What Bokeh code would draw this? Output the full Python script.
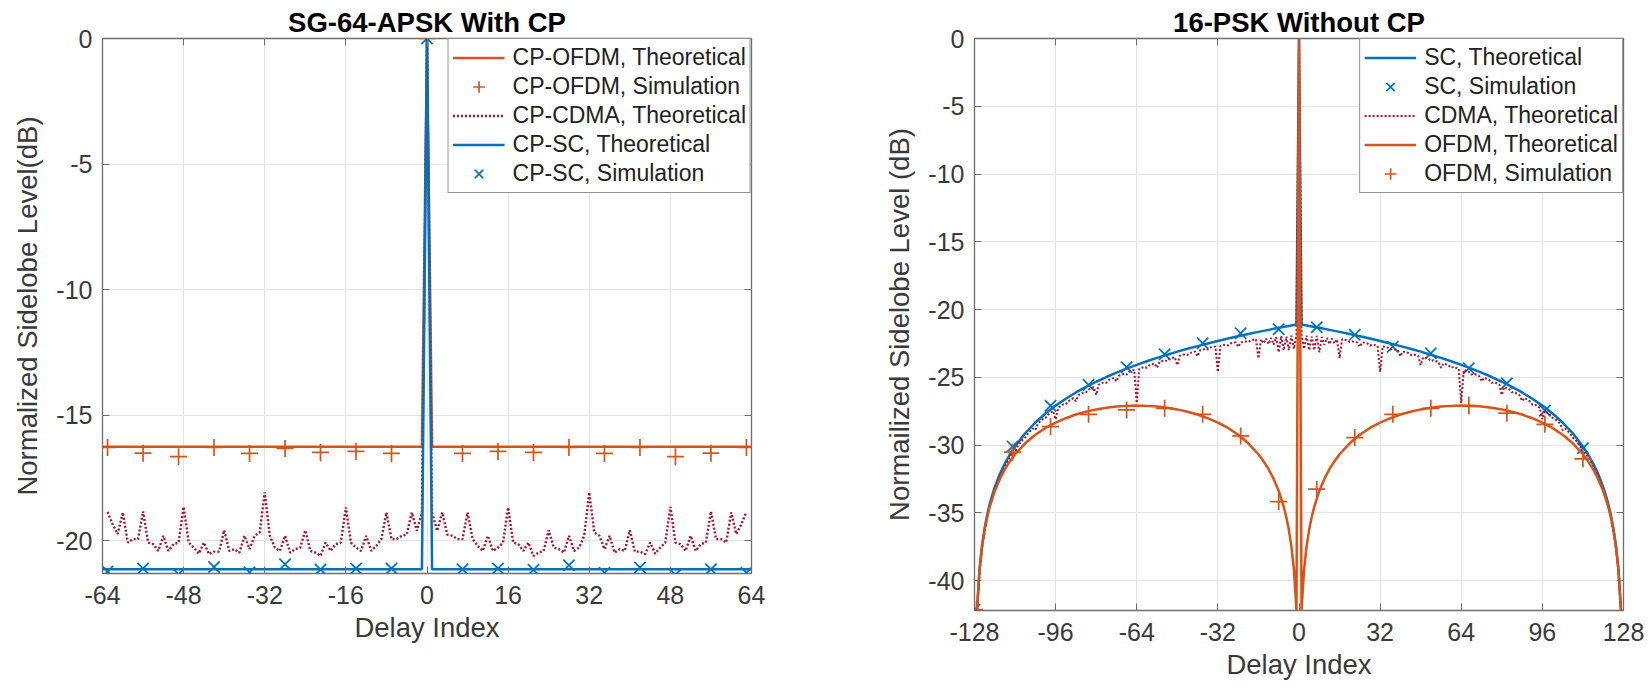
from bokeh.plotting import figure
from bokeh.models import Range1d, FixedTicker, LinearAxis
from bokeh.layouts import row
from bokeh.embed import file_html
from bokeh.resources import INLINE

FONT = "Liberation Sans"
BLUE = "#0072BD"
ORANGE = "#D95319"
DARKRED = "#A2142F"
TXT = "#3a3a3a"
AXC = "#6e6e6e"
GRID = "#e3e3e3"

# ---------------- left panel: SG-64-APSK With CP ----------------
l_xticks = [-64, -48, -32, -16, 0, 16, 32, 48, 64]
l_yticks = [-20, -15, -10, -5, 0]
l_theo_x = [-64, -1, 0, 1, 64]
l_ofdm_theo = [-16.25, -16.25, 0.0, -16.25, -16.25]
l_sc_theo = [-21.13, -21.13, 0.0, -21.13, -21.13]
l_sim_x = [-63, -56, -49, -42, -35, -28, -21, -14, -7, 0, 7, 14, 21, 28, 35, 42, 49, 56, 63]
l_ofdm_sim = [-16.28, -16.51, -16.65, -16.28, -16.52, -16.32, -16.48, -16.44, -16.52, 0.0,
              -16.52, -16.44, -16.48, -16.28, -16.52, -16.28, -16.65, -16.51, -16.28]
l_sc_sim = [-21.22, -21.10, -21.33, -21.04, -21.25, -20.93, -21.14, -21.10, -21.10, 0.0,
            -21.13, -21.10, -21.15, -20.97, -21.27, -21.06, -21.35, -21.13, -21.27]
# CP-CDMA theoretical, delays 1..63 (symmetric about 0, peak 0 dB at 0)
l_cdma_k = list(range(1, 64))
l_cdma_half = [-18.87, -19.60, -18.87, -19.75, -19.80, -19.93, -19.93, -18.87, -19.93, -20.20,
               -20.40, -19.80, -20.40, -20.27, -20.07, -18.67, -20.07, -20.13, -20.40, -20.07,
               -20.60, -20.47, -20.40, -19.58, -20.27, -20.33, -20.47, -19.80, -20.40, -20.27,
               -19.80, -18.07, -19.67, -19.80, -20.33, -19.80, -20.47, -20.33, -20.40, -19.58,
               -20.43, -20.43, -20.53, -20.07, -20.51, -20.27, -20.07, -18.65, -20.07, -20.13,
               -20.40, -19.80, -20.40, -20.13, -20.07, -18.83, -19.93, -19.93, -20.07, -18.87,
               -19.73, -19.34, -18.85]

# ---------------- right panel: 16-PSK Without CP ----------------
r_xticks = [-128, -96, -64, -32, 0, 32, 64, 96, 128]
r_yticks = [-40, -35, -30, -25, -20, -15, -10, -5, 0]
r_sc_k = [1, 4, 8, 12, 16, 20, 24, 28, 32, 36, 40, 44, 48, 52, 56, 60, 64, 68, 72, 76, 80, 84,
          88, 92, 96, 100, 104, 108, 112, 114, 116, 118, 120, 121, 122, 123, 124, 125, 126, 127]
r_sc_half = [-21.11, -21.21, -21.35, -21.50, -21.65, -21.81, -21.97, -22.14, -22.32, -22.51,
             -22.70, -22.90, -23.11, -23.34, -23.57, -23.82, -24.08, -24.36, -24.66, -24.98,
             -25.33, -25.71, -26.12, -26.58, -27.09, -27.67, -28.34, -29.13, -30.10, -30.68,
             -31.35, -32.14, -33.11, -33.69, -34.36, -35.15, -36.12, -37.37, -39.13, -42.14]
r_ofdm_k = [1, 2, 3, 4, 5, 6, 8, 10, 12, 14, 16, 20, 24, 28, 32, 36, 40, 44, 48, 52, 56, 60, 64,
            68, 72, 76, 80, 84, 88, 92, 96, 100, 104, 108, 112, 114, 116, 118, 120, 122, 123,
            124, 125, 126, 127]
r_ofdm_half = [-42.18, -39.20, -37.48, -36.26, -35.33, -34.57, -33.39, -32.50, -31.78, -31.19,
               -30.68, -29.87, -29.24, -28.74, -28.34, -28.02, -27.75, -27.54, -27.37, -27.25,
               -27.16, -27.11, -27.09, -27.11, -27.16, -27.25, -27.37, -27.54, -27.75, -28.02,
               -28.34, -28.74, -29.24, -29.87, -30.68, -31.19, -31.78, -32.50, -33.39, -34.57,
               -35.33, -36.26, -37.48, -39.20, -42.18]
r_cdma_k = list(range(1, 128))
r_cdma_half = [-21.86, -22.90, -21.93, -23.00, -22.00, -23.00, -21.95, -23.15, -22.04, -22.60,
               -22.10, -22.55, -22.15, -22.50, -22.20, -23.60, -22.19, -22.23, -22.27, -22.40,
               -22.35, -22.39, -22.43, -22.75, -22.42, -22.46, -22.50, -22.65, -22.59, -22.63,
               -22.68, -24.60, -22.72, -22.76, -22.81, -22.95, -22.90, -22.95, -23.00, -23.45,
               -23.10, -23.15, -23.20, -23.35, -23.30, -23.36, -23.41, -24.10, -23.52, -23.57,
               -23.63, -23.80, -23.74, -23.80, -23.86, -24.30, -23.98, -24.04, -24.11, -24.30,
               -24.23, -24.30, -24.37, -26.90, -24.45, -24.52, -24.59, -24.80, -24.74, -24.81,
               -24.89, -25.30, -25.04, -25.12, -25.20, -25.40, -25.37, -25.45, -25.54, -26.30,
               -25.72, -25.82, -25.91, -26.10, -26.11, -26.21, -26.32, -26.75, -26.53, -26.65,
               -26.76, -27.00, -27.00, -27.13, -27.26, -28.10, -27.48, -27.62, -27.77, -28.00,
               -28.08, -28.24, -28.42, -28.90, -28.78, -28.97, -29.17, -29.45, -29.61, -29.84,
               -30.09, -30.60, -30.58, -30.88, -31.20, -31.60, -31.93, -32.34, -32.80, -33.40,
               -33.89, -34.56, -35.35, -36.40, -37.57, -39.33, -42.20]
r_sim_x = [-128, -113, -98, -83, -68, -53, -38, -23, -8, 7, 22, 37, 52, 67, 82, 97, 112]
r_sc_sim = [-42.15, -30.10, -27.10, -25.56, -24.26, -23.30, -22.49, -21.75, -21.46, -21.31,
            -21.87, -22.74, -23.23, -24.34, -25.44, -27.46, -30.24]
r_ofdm_sim = [-42.15, -30.53, -28.64, -27.73, -27.41, -27.29, -27.73, -29.33, -34.17, -33.26,
              -29.45, -27.73, -27.29, -27.09, -27.65, -28.47, -31.02]


def sym_x(k):
    return [-v for v in reversed(k)] + [0] + list(k)


def sym_y(v, peak=0.0):
    return list(reversed(v)) + [peak] + list(v)


def make_fig(title, xr, yr, xticks, yticks, ylabel, fw, fh, bl, br, bt, bb):
    p = figure(frame_width=fw, frame_height=fh,
               min_border_left=bl, min_border_right=br, min_border_top=bt, min_border_bottom=bb,
               x_range=Range1d(*xr), y_range=Range1d(*yr),
               output_backend="svg", toolbar_location=None, title=title)
    p.title.align = "center"
    p.title.text_font = FONT
    p.title.text_font_size = "27.5px"
    p.title.text_font_style = "bold"
    p.title.text_color = "#000000"
    p.title.standoff = 2
    p.xaxis.ticker = FixedTicker(ticks=xticks)
    p.yaxis.ticker = FixedTicker(ticks=yticks)
    p.xaxis.major_label_overrides = {t: str(t) for t in xticks}
    p.yaxis.major_label_overrides = {t: str(t) for t in yticks}
    p.xaxis.axis_label = "Delay Index"
    p.yaxis.axis_label = ylabel
    for ax in (p.xaxis[0], p.yaxis[0]):
        ax.major_label_text_font = FONT
        ax.major_label_text_font_size = "25px"
        ax.major_label_text_color = TXT
        ax.axis_label_text_font = FONT
        ax.axis_label_text_font_size = "27.5px"
        ax.axis_label_text_font_style = "normal"
        ax.axis_label_text_color = TXT
        ax.axis_line_color = None
        ax.major_tick_in = 7
        ax.major_tick_out = 0
        ax.major_tick_line_color = AXC
        ax.minor_tick_line_color = None
    p.xaxis.major_label_standoff = 12
    p.xaxis.axis_label_standoff = 5
    p.yaxis.major_label_standoff = 10
    p.yaxis.axis_label_standoff = 10
    for side, ticks in (("above", xticks), ("right", yticks)):
        a = LinearAxis(ticker=FixedTicker(ticks=ticks))
        a.major_label_text_font_size = "1px"
        a.major_label_text_alpha = 0
        a.major_label_standoff = 0
        a.axis_line_color = None
        a.major_tick_in = 7
        a.major_tick_out = 0
        a.major_tick_line_color = AXC
        a.minor_tick_line_color = None
        p.add_layout(a, side)
    p.outline_line_color = AXC
    p.outline_line_width = 1.3
    p.xgrid.grid_line_color = GRID
    p.ygrid.grid_line_color = GRID
    p.background_fill_color = "white"
    p.border_fill_color = "white"
    return p


def style_legend(p):
    lg = p.legend[0]
    lg.location = "top_right"
    lg.margin = 0
    lg.padding = 4
    lg.spacing = 0
    lg.label_height = 29
    lg.glyph_height = 29
    lg.glyph_width = 52
    lg.label_standoff = 8
    lg.label_text_font = FONT
    lg.label_text_font_size = "23px"
    lg.label_text_color = "#222222"
    lg.border_line_color = "#262626"
    lg.border_line_width = 1
    lg.background_fill_alpha = 1.0


# ---- left figure ----
p1 = make_fig("SG-64-APSK With CP", (-64, 64), (-21.3, 0), l_xticks, l_yticks,
              "Normalized Sidelobe Level(dB)", 649, 535, 102, 89, 38, 122)
p1.line(l_theo_x, l_ofdm_theo, color=ORANGE, line_width=2.5, legend_label="CP-OFDM, Theoretical")
p1.scatter(l_sim_x, l_ofdm_sim, marker="cross", size=17, line_color=ORANGE, line_width=1.7,
           legend_label="CP-OFDM, Simulation")
p1.line(sym_x(l_cdma_k), sym_y(l_cdma_half), color=DARKRED, line_width=2.4, line_dash="2 2",
        legend_label="CP-CDMA, Theoretical")
p1.line(l_theo_x, l_sc_theo, color=BLUE, line_width=2.5, legend_label="CP-SC, Theoretical")
p1.scatter(l_sim_x, l_sc_sim, marker="x", size=16, line_color=BLUE, line_width=1.7,
           legend_label="CP-SC, Simulation")
style_legend(p1)

# ---- right figure ----
p2 = make_fig("16-PSK Without CP", (-128, 128), (-42.21, 0), r_xticks, r_yticks,
              "Normailized Sidelobe Level (dB)", 649, 572, 134, 28, 37, 86)
p2.line(sym_x(r_sc_k), sym_y(r_sc_half), color=BLUE, line_width=2.5, legend_label="SC, Theoretical")
p2.scatter(r_sim_x, r_sc_sim, marker="x", size=16, line_color=BLUE, line_width=1.7,
           legend_label="SC, Simulation")
p2.line(sym_x(r_cdma_k), sym_y(r_cdma_half), color=DARKRED, line_width=2.0, line_dash="2 2",
        legend_label="CDMA, Theoretical")
p2.line(sym_x(r_ofdm_k), sym_y(r_ofdm_half), color=ORANGE, line_width=2.5,
        legend_label="OFDM, Theoretical")
p2.scatter(r_sim_x, r_ofdm_sim, marker="cross", size=17, line_color=ORANGE, line_width=1.7,
           legend_label="OFDM, Simulation")
style_legend(p2)

layout = row(p1, p2, spacing=0)
open("out.html", "w").write(file_html(layout, INLINE))
